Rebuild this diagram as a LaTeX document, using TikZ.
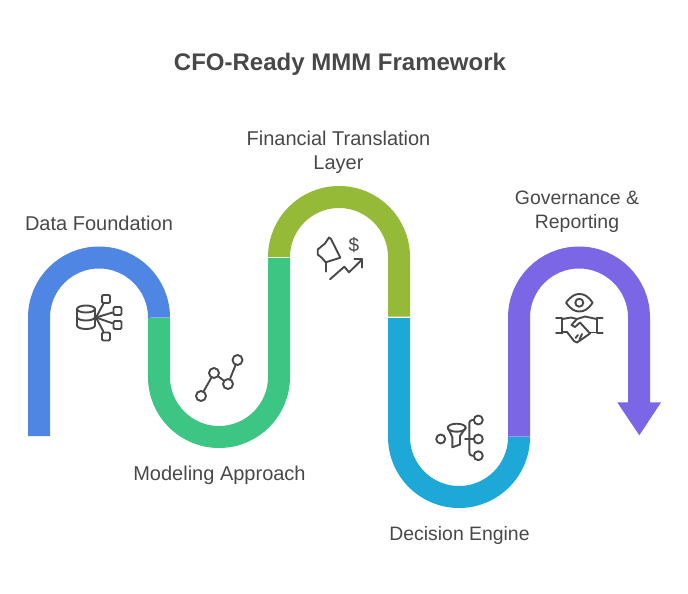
\documentclass[tikz,border=0pt]{standalone}
\usepackage{fontspec}
\setmainfont{Liberation Sans}
\definecolor{bandblue}{HTML}{4F86E4}
\definecolor{bandgreen}{HTML}{3CC583}
\definecolor{bandolive}{HTML}{94BA38}
\definecolor{bandcyan}{HTML}{1EA8D8}
\definecolor{bandpurple}{HTML}{7B66E6}
\definecolor{inkgray}{HTML}{484848}
\tikzset{
	band/.style={line width=22pt},
	label/.style={text=inkgray, align=center, font=\fontsize{20}{24}\selectfont},
	smalllabel/.style={text=inkgray, align=center, font=\fontsize{19.4}{24}\selectfont},
	icon/.style={draw=inkgray, line width=1.9pt, line cap=round, line join=round},
	dotnode/.style={circle, icon, fill=white, inner sep=0pt, minimum size=9pt},
	boxnode/.style={rectangle, rounded corners=1.2pt, icon, fill=white, inner sep=0pt, minimum size=8pt},
}
\begin{document}
\begin{tikzpicture}[x=1pt, y=-1pt]
	\useasboundingbox (0,0) rectangle (688,594);
	% Title
	\node[text=inkgray, font=\fontsize{24}{28}\selectfont\bfseries] (title) at (340,64) {CFO-Ready MMM Framework};
	% Bands
	\draw[band, bandblue] (39,436) -- (39,317.5) arc[start angle=180, end angle=360, radius=60] -- (159,316.6);
	\draw[band, bandgreen] (159,318.2) -- (159,377) arc[start angle=180, end angle=0, radius=60] -- (279,258.2);
	\draw[band, bandolive] (279,256.6) -- (279,257) arc[start angle=180, end angle=360, radius=60] -- (399,316.6);
	\draw[band, bandcyan] (399,318.2) -- (399,437) arc[start angle=180, end angle=0, radius=60] -- (519,438.2);
	\draw[band, bandpurple] (519,436.6) -- (519,317.5) arc[start angle=180, end angle=360, radius=60] -- (639,403);
	\fill[bandpurple] (617.3,402.4) -- (661,402.4) -- (639.3,435.3) -- cycle;
	% Labels
	\node[label] (data) at (99,223) {Data Foundation};
	\node[label] (model) at (219.5,475.5) {Modeling Approach};
	\node[label] (finance) at (338.5,152) {Financial Translation\\Layer};
	\node[smalllabel] (decision) at (459.5,535.5) {Decision Engine};
	\node[smalllabel] (govern) at (577,212) {Governance \&\\Reporting};
	% Database icon
	\draw[icon] (77,309) arc[start angle=180, end angle=360, x radius=9, y radius=3.5] -- (95,325.5) arc[start angle=0, end angle=180, x radius=9, y radius=3.5] -- cycle;
	\draw[icon] (77,309) arc[start angle=180, end angle=0, x radius=9, y radius=3.5];
	\draw[icon] (77,317) arc[start angle=180, end angle=0, x radius=9, y radius=3.5];
	\coordinate (hub) at (96,317.5);
	\node[boxnode] (box1) at (106,299) {};
	\node[boxnode] (box2) at (117.5,311) {};
	\node[boxnode] (box3) at (117.5,325) {};
	\node[boxnode] (box4) at (106,336.5) {};
	\foreach \i in {1,2,3,4} {
		\draw[icon] (hub) -- (box\i);
	}
	% Line chart icon
	\node[dotnode, minimum size=10pt] (dot1) at (201,396) {};
	\node[dotnode, minimum size=10pt] (dot2) at (214,373) {};
	\node[dotnode, minimum size=10pt] (dot3) at (228,384) {};
	\node[dotnode, minimum size=10pt] (dot4) at (237.5,360) {};
	\draw[icon] (dot1) -- (dot2);
	\draw[icon] (dot2) -- (dot3);
	\draw[icon] (dot3) -- (dot4);
	% Flag and money icon
	\draw[icon] (329,237.5) -- (331,239) -- (340.3,257.7) -- (325.7,262.3) -- (321.7,257.7) -- (317.7,254.5) -- (317.7,249.5) -- (325,243.5) -- cycle;
	\draw[icon] (325.7,262.3) -- (325.7,271.7);
	\node[text=inkgray, font=\fontsize{19}{19}\selectfont] (dollar) at (353.8,245) {\$};
	\draw[icon] (330,279.3) -- (344.3,266.7) -- (349,272.3) -- (362.3,259.3);
	\draw[icon] (354.3,259.3) -- (362.3,259.3) -- (362.3,267.7);
	% Funnel and tree icon
	\node[dotnode] (seed) at (440.7,439) {};
	\draw[icon] (456.7,427.7) ellipse[x radius=9, y radius=4];
	\draw[icon] (447.7,427.7) -- (452.3,437) -- (452.3,447.3) -- (460,444.5) -- (460,436) -- (465.7,427.7);
	\node[dotnode] (leaf1) at (478.3,420) {};
	\node[dotnode] (leaf2) at (478.3,439) {};
	\node[dotnode] (leaf3) at (478.3,455.7) {};
	\draw[icon, rounded corners=3pt] (leaf1.west) -- (469.3,420) -- (469.3,455.7) -- (leaf3.west);
	\draw[icon] (465,439) -- (leaf2);
	% Eye and handshake icon
	\draw[icon] (566,302.7) .. controls (571,296) and (575,294) .. (579.3,294) .. controls (584,294) and (588,296) .. (592.6,302.7) .. controls (588,309.5) and (584,311.5) .. (579.3,311.5) .. controls (575,311.5) and (571,309.5) .. (566,302.7) -- cycle;
	\draw[icon] (579.3,302.7) circle[radius=4];
	\draw[icon] (556,317.7) -- (562.3,317.7) -- (562.3,333.3);
	\draw[icon] (556,333.3) -- (562.3,333.3);
	\draw[icon] (602.7,317.7) -- (596.7,317.7) -- (596.7,333.3) -- (602.7,333.3);
	\draw[icon] (562.3,319) -- (571,317.5) -- (577,319);
	\draw[icon] (596.7,319) -- (585,316.5) -- (577,319) -- (571.5,325) -- (575,327) -- (580,322.5) -- (590,333.5) -- (585,337);
	\draw[icon] (562.3,332) -- (567,332) -- (574,341) -- (577,342.5) -- (585,337);
	\draw[icon] (590,332.5) -- (596.7,332.5);
	\draw[icon] (575.5,338) -- (578,335);
	\draw[icon] (579.5,339.5) -- (582,334);
\end{tikzpicture}
\end{document}
